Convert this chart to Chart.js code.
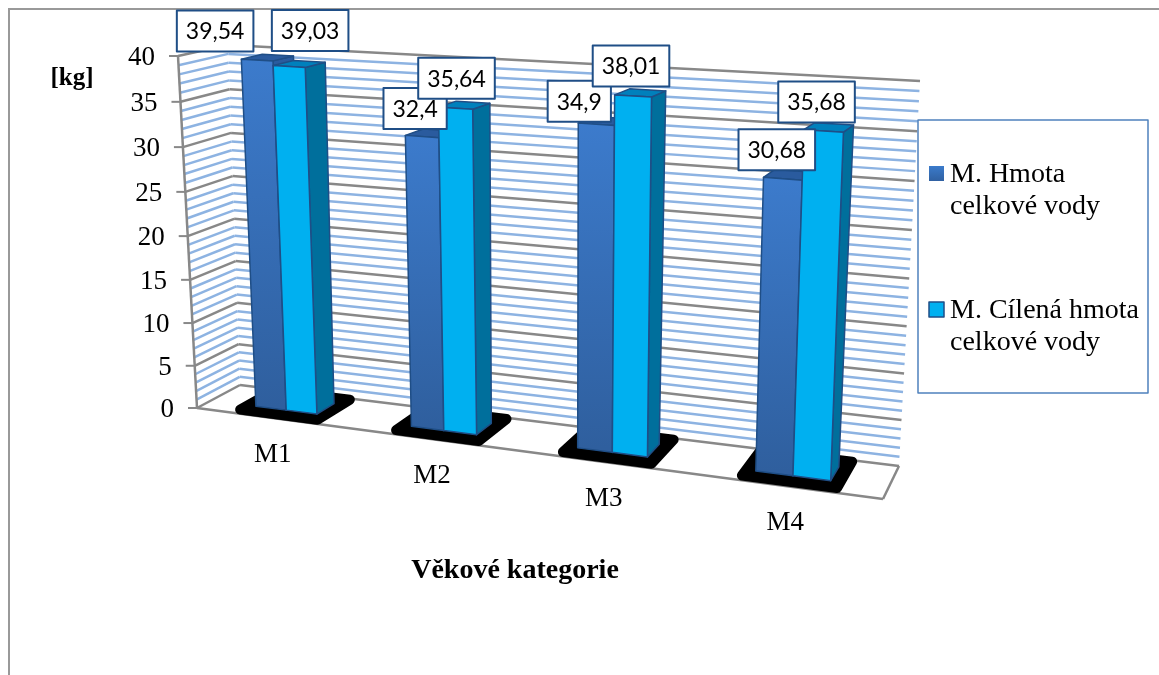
<!DOCTYPE html>
<html>
<head>
<meta charset="utf-8">
<title>Celková voda</title>
<script src="https://cdn.jsdelivr.net/npm/chart.js@4"></script>
<style>
  html, body { margin: 0; padding: 0; background: #fff; }
  #wrap { width: 1159px; height: 675px; }
</style>
</head>
<body>
<div id="wrap"><canvas id="chart" width="1159" height="675"></canvas></div>
<script>
const categories = ['M1', 'M2', 'M3', 'M4'];
const hmota = [39.54, 32.4, 34.9, 30.68];
const cilena = [39.03, 35.64, 38.01, 35.68];
const seriesNames = ['M. Hmota celkové vody', 'M. Cílená hmota celkové vody'];
const yTicks = [0, 5, 10, 15, 20, 25, 30, 35, 40];
const yTitle = '[kg]';
const xTitle = 'Věkové kategorie';

// corners of the 3d box: front plane and back wall (bottom-left, bottom-right, top-right, top-left)
const frontQuad = [[197, 408], [883, 499], [899, 96], [178, 56]];
const backQuad = [[240, 385], [899, 466], [920, 81], [228, 45]];
const barFront = 0.33;
const barBack = 0.76;
const shadowFront = 0.14;
const shadowBack = 0.96;

// how far each value box sits from the top of its bar
const hmotaNudge = [[-42, -29], [-7, -28], [-17, -23], [-6, -29]];
const cilenaNudge = [[21, -36], [1, -30], [-2, -30], [-7, -29]];
const categoryNudge = [0, 0, 1, -1];

const serif = '"Liberation Serif", serif';

// maps the unit square on to a quad
function quadMap(q) {
  const [p0, p1, p2, p3] = q;
  const dx1 = p1[0] - p2[0], dx2 = p3[0] - p2[0], sx = p0[0] - p1[0] + p2[0] - p3[0];
  const dy1 = p1[1] - p2[1], dy2 = p3[1] - p2[1], sy = p0[1] - p1[1] + p2[1] - p3[1];
  const den = dx1 * dy2 - dx2 * dy1;
  const g = (sx * dy2 - dx2 * sy) / den;
  const h = (dx1 * sy - sx * dy1) / den;
  const a = p1[0] - p0[0] + g * p1[0], b = p3[0] - p0[0] + h * p3[0];
  const d = p1[1] - p0[1] + g * p1[1], e = p3[1] - p0[1] + h * p3[1];
  return (u, v) => {
    const w = g * u + h * v + 1;
    return [(a * u + b * v + p0[0]) / w, (d * u + e * v + p0[1]) / w];
  };
}

const frontMap = quadMap(frontQuad);
const backMap = quadMap(backQuad);

function project(u, v, depth) {
  const f = frontMap(u, v), b = backMap(u, v);
  return [f[0] + (b[0] - f[0]) * depth, f[1] + (b[1] - f[1]) * depth];
}

function poly(ctx, pts) {
  ctx.beginPath();
  pts.forEach((p, i) => (i ? ctx.lineTo(p[0], p[1]) : ctx.moveTo(p[0], p[1])));
  ctx.closePath();
}

function line(ctx, a, b, color, width) {
  ctx.strokeStyle = color;
  ctx.lineWidth = width;
  ctx.beginPath();
  ctx.moveTo(a[0], a[1]);
  ctx.lineTo(b[0], b[1]);
  ctx.stroke();
}

function face(ctx, pts, fill) {
  poly(ctx, pts);
  ctx.fillStyle = fill;
  ctx.fill();
  ctx.strokeStyle = '#1f4e86';
  ctx.lineWidth = 1.5;
  ctx.lineJoin = 'round';
  ctx.stroke();
}

function drawWalls(chart, ctx, uOf, vOf) {
  const y = chart.scales.y;
  const gray = '#888888';
  const blue = '#8db3e2';
  for (let val = y.min; val <= y.max; val++) {
    if (yTicks.includes(val)) continue;
    const v = vOf(y.getPixelForValue(val));
    line(ctx, project(0, v, 0), project(0, v, 1), blue, 2.5);
    line(ctx, project(0, v, 1), project(1, v, 1), blue, 2.5);
  }
  yTicks.forEach(val => {
    const v = vOf(y.getPixelForValue(val));
    line(ctx, project(0, v, 0), project(0, v, 1), gray, 2.5);
    line(ctx, project(0, v, 1), project(1, v, 1), gray, 2.5);
    const p = project(0, v, 0);
    line(ctx, [p[0] - 9, p[1]], p, gray, 2);
    ctx.fillStyle = '#000';
    ctx.font = '27px ' + serif;
    ctx.textAlign = 'right';
    ctx.textBaseline = 'middle';
    ctx.fillText(String(val), p[0] - 23, p[1] + 2);
  });
  line(ctx, project(0, 1, 0), project(0, 0, 0), gray, 2.5);
  line(ctx, project(0, 0, 0), project(1, 0, 0), gray, 2.5);
  line(ctx, project(1, 0, 0), project(1, 0, 1), gray, 2.5);
}

function drawBar(ctx, el, fills, uOf, vOf) {
  const u0 = uOf(el.x - el.width / 2), u1 = uOf(el.x + el.width / 2);
  const vTop = vOf(el.y), vBase = vOf(el.base);
  const fl = project(u0, vTop, barFront), fr = project(u1, vTop, barFront);
  const bl = project(u0, vTop, barBack), br = project(u1, vTop, barBack);
  const gl = project(u0, vBase, barFront), gr = project(u1, vBase, barFront);
  const gb = project(u1, vBase, barBack);
  face(ctx, [fr, br, gb, gr], fills.side);
  face(ctx, [fl, fr, br, bl], fills.top);
  let front = fills.front;
  if (fills.frontLow) {
    front = ctx.createLinearGradient(0, fl[1], 0, gl[1]);
    front.addColorStop(0, fills.front);
    front.addColorStop(1, fills.frontLow);
  }
  face(ctx, [fl, fr, gr, gl], front);
}

function drawValueBox(ctx, el, value, nudge, uOf, vOf) {
  const u = uOf(el.x);
  const p = project(u, vOf(el.y), barFront);
  const text = String(value).replace('.', ',');
  ctx.font = '23px Lato, sans-serif';
  const w = ctx.measureText(text).width + 18;
  const h = 41;
  const cx = p[0] + nudge[0], cy = p[1] + nudge[1];
  ctx.fillStyle = '#fff';
  ctx.fillRect(cx - w / 2, cy - h / 2, w, h);
  ctx.strokeStyle = '#1f4e86';
  ctx.lineWidth = 2;
  ctx.strokeRect(cx - w / 2, cy - h / 2, w, h);
  ctx.fillStyle = '#000';
  ctx.textAlign = 'center';
  ctx.textBaseline = 'middle';
  ctx.fillText(text, cx, cy + 1);
}

// wraps a series name the way the legend box shows it
function wrapName(name) {
  const cut = name.indexOf(' celkové');
  return [name.slice(0, cut), name.slice(cut + 1)];
}

function drawLegend(ctx, chart) {
  ctx.strokeStyle = '#4f81bd';
  ctx.lineWidth = 1.5;
  ctx.strokeRect(918, 120, 230, 273);
  const rows = [182, 318];
  chart.data.datasets.forEach((ds, i) => {
    const y = rows[i];
    if (i === 0) {
      const g = ctx.createLinearGradient(0, y - 16, 0, y);
      g.addColorStop(0, '#3b7bcb');
      g.addColorStop(1, '#2f5f9f');
      ctx.fillStyle = g;
      ctx.fillRect(929, y - 16, 15, 15);
    } else {
      ctx.fillStyle = '#00b0f0';
      ctx.fillRect(929, y - 16, 15, 15);
      ctx.strokeStyle = '#1f4e86';
      ctx.lineWidth = 1.5;
      ctx.strokeRect(929, y - 16, 15, 15);
    }
    ctx.fillStyle = '#000';
    ctx.font = '28px ' + serif;
    ctx.textAlign = 'left';
    ctx.textBaseline = 'alphabetic';
    wrapName(ds.label).forEach((t, k) => ctx.fillText(t, 950, y + k * 32));
  });
}

const box3d = {
  id: 'box3d',
  beforeDatasetsDraw(chart) {
    const ctx = chart.ctx;
    const area = chart.chartArea;
    const uOf = px => (px - area.left) / area.width;
    const vOf = py => (area.bottom - py) / area.height;
    const metaA = chart.getDatasetMeta(0);
    const metaB = chart.getDatasetMeta(1);
    const xScale = chart.scales.x;

    ctx.save();
    // outer frame
    ctx.strokeStyle = '#999999';
    ctx.lineWidth = 2;
    ctx.strokeRect(9, 9, 1200, 800);

    drawWalls(chart, ctx, uOf, vOf);

    // black floor shadows under each pair of bars
    categories.forEach((c, i) => {
      const cu = uOf(xScale.getPixelForValue(i));
      const pad = (uOf(metaA.data[i].width) - uOf(0)) * 1.26;
      const pts = [
        project(cu - pad, 0, shadowFront), project(cu + pad, 0, shadowFront),
        project(cu + pad, 0, shadowBack), project(cu - pad, 0, shadowBack)
      ];
      poly(ctx, pts);
      ctx.fillStyle = '#000';
      ctx.fill();
      ctx.strokeStyle = '#000';
      ctx.lineWidth = 10;
      ctx.lineJoin = 'round';
      ctx.stroke();
    });

    categories.forEach((c, i) => {
      drawBar(ctx, metaA.data[i], { front: '#3c7bcc', frontLow: '#2f5f9e', top: '#2a5b9e', side: '#2a5b9e' }, uOf, vOf);
      drawBar(ctx, metaB.data[i], { front: '#00b0f0', top: '#0080bc', side: '#006f9c' }, uOf, vOf);
    });

    // category labels follow the front edge of the floor
    ctx.fillStyle = '#000';
    ctx.font = '27px ' + serif;
    ctx.textAlign = 'center';
    ctx.textBaseline = 'alphabetic';
    categories.forEach((c, i) => {
      const p = project(uOf(xScale.getPixelForValue(i)), 0, 0);
      ctx.fillText(c, p[0] + categoryNudge[i], p[1] + 44);
    });

    categories.forEach((c, i) => {
      drawValueBox(ctx, metaA.data[i], hmota[i], hmotaNudge[i], uOf, vOf);
      drawValueBox(ctx, metaB.data[i], cilena[i], cilenaNudge[i], uOf, vOf);
    });

    ctx.fillStyle = '#000';
    ctx.font = 'bold 25px ' + serif;
    ctx.textAlign = 'center';
    ctx.textBaseline = 'alphabetic';
    ctx.fillText(yTitle, 72, 85);
    ctx.font = 'bold 28px ' + serif;
    ctx.fillText(xTitle, 515, 578);

    drawLegend(ctx, chart);
    ctx.restore();
    return false; // the faces above replace the flat bars
  }
};

new Chart(document.getElementById('chart'), {
  type: 'bar',
  data: {
    labels: categories,
    datasets: [
      { label: seriesNames[0], data: hmota },
      { label: seriesNames[1], data: cilena }
    ]
  },
  options: {
    responsive: false,
    animation: false,
    events: [],
    datasets: { bar: { categoryPercentage: 0.4, barPercentage: 1 } },
    plugins: { legend: { display: false }, tooltip: { enabled: false } },
    scales: {
      x: { display: false },
      y: { display: false, min: 0, max: 40 }
    }
  },
  plugins: [box3d]
});
</script>
</body>
</html>
